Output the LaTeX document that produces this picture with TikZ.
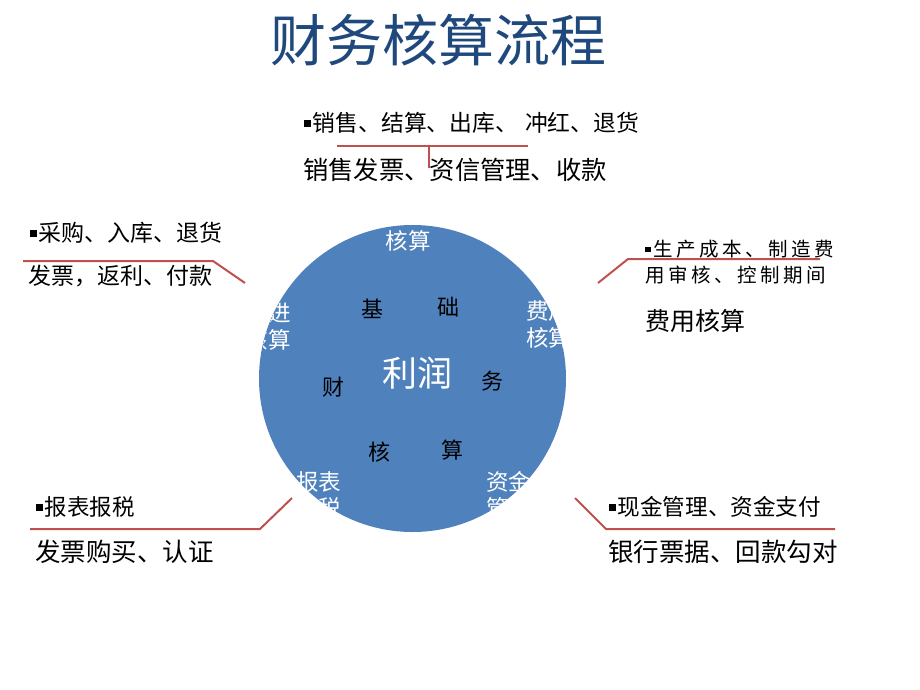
\documentclass[tikz,border=0pt]{standalone}
\usepackage{fontspec}
\setmainfont{Noto Sans CJK SC}
\definecolor{titleblue}{HTML}{1F497D}
\definecolor{circblue}{HTML}{4F81BD}
\definecolor{linered}{HTML}{C0504D}
\newcommand\blt{\rule[0.2em]{0.3em}{0.3em}\kern0.08em}
\newcommand\spc{\kern3.5pt}
\tikzset{
  txt/.style={inner sep=0pt,anchor=west,text=black},
  ctr/.style={inner sep=0pt,anchor=center},
  redline/.style={draw=linered,line width=2pt},
  wt/.style={inner sep=0pt,text=white,font=\fontsize{22.5}{27}\selectfont},
  bk/.style={inner sep=0pt,text=black,font=\fontsize{22}{26}\selectfont},
}
\begin{document}
\begin{tikzpicture}[x=1pt,y=-1pt]
\useasboundingbox (0,0) rectangle (920,690);
\fill[white] (0,0) rectangle (920,690);

% title
\node[ctr,text=titleblue,font=\fontsize{56}{62}\selectfont] (title) at (438,40) {财务核算流程};

% circle
\fill[circblue] (412.5,378.5) circle (153.5);
\coordinate (cc) at (412.5,378.5);
\begin{scope}
  \clip (412.5,378.5) circle (153.5);
  \node[wt,anchor=center] (tophs) at (408,241) {核算};
  \node[wt,anchor=east] (lft1) at (291,313) {采购进};
  \node[wt,anchor=east] (lft2) at (291,340) {货款核算};
  \node[wt,anchor=west] (rgt1) at (526,311) {费用};
  \node[wt,anchor=west] (rgt2) at (526,338) {核算};
  \node[wt,anchor=west] (bl1) at (296,482) {报表};
  \node[wt,anchor=west] (bl2) at (296,508) {报税};
  \node[wt,anchor=west] (br1) at (486,482) {资金};
  \node[wt,anchor=west] (br2) at (486,508) {管理};
\end{scope}
\node[ctr,text=white,font=\fontsize{35}{40}\selectfont] (profit) at (417,373) {利润};
\node[bk] (ji) at (372.5,309) {基};
\node[bk] (chu) at (448,307) {础};
\node[bk] (cai) at (333,387) {财};
\node[bk] (wu) at (492,381) {务};
\node[bk] (he) at (379,452) {核};
\node[bk] (suan) at (452,450) {算};

% top group
\node[txt,font=\fontsize{22.8}{26}\selectfont] (t1) at (304,123) {\blt 销售、结算、出库、\kern7pt 冲红、退货};
\node[txt,font=\fontsize{25.3}{30}\selectfont] (t2) at (303,170) {销售发票、资信管理、收款};
\coordinate (ta) at (337,146);
\coordinate (tb) at (528,146);
\coordinate (tm) at (429,146);
\coordinate (tt) at (429,168);
\draw[redline] (ta) -- (tb);
\draw[redline] (tm) -- (tt);

% top-left group
\node[txt,font=\fontsize{23}{27}\selectfont] (l1) at (30,233) {\blt 采购、入库、退货};
\node[txt,font=\fontsize{23}{27}\selectfont] (l2) at (28,276) {发票，返利、付款};
\coordinate (la) at (23,261);
\coordinate (lb) at (213,261);
\coordinate (lc) at (245,283);
\draw[redline] (la) -- (lb) -- (lc);

% top-right group
\node[txt,font=\fontsize{19.5}{24}\selectfont] (r1) at (645,249) {\blt\kern1pt 生\spc 产\spc 成\spc 本\spc 、\spc 制\spc 造\spc 费};
\node[txt,font=\fontsize{19.5}{24}\selectfont] (r2) at (645,275) {用\spc 审\spc 核\spc 、\spc 控\spc 制\spc 期\spc 间};
\node[txt,font=\fontsize{25}{30}\selectfont] (r3) at (645,321) {费用核算};
\coordinate (ra) at (598,283);
\coordinate (rb) at (628,259);
\coordinate (rc) at (820,259);
\draw[redline] (ra) -- (rb) -- (rc);

% bottom-left group
\node[txt,font=\fontsize{22.5}{27}\selectfont] (bl3) at (36,507) {\blt 报表报税};
\node[txt,font=\fontsize{25.5}{30}\selectfont] (bl4) at (35,552) {发票购买、认证};
\coordinate (ba) at (30,529);
\coordinate (bb) at (260,529);
\coordinate (bc) at (292,498);
\draw[redline] (ba) -- (bb) -- (bc);

% bottom-right group
\node[txt,font=\fontsize{22.6}{27}\selectfont] (br3) at (609,507) {\blt 现金管理、资金支付};
\node[txt,font=\fontsize{25.5}{30}\selectfont] (br4) at (608,552) {银行票据、回款勾对};
\coordinate (ca) at (575,498);
\coordinate (cb) at (606,529);
\coordinate (cc2) at (835,529);
\draw[redline] (ca) -- (cb) -- (cc2);
\end{tikzpicture}
\end{document}
